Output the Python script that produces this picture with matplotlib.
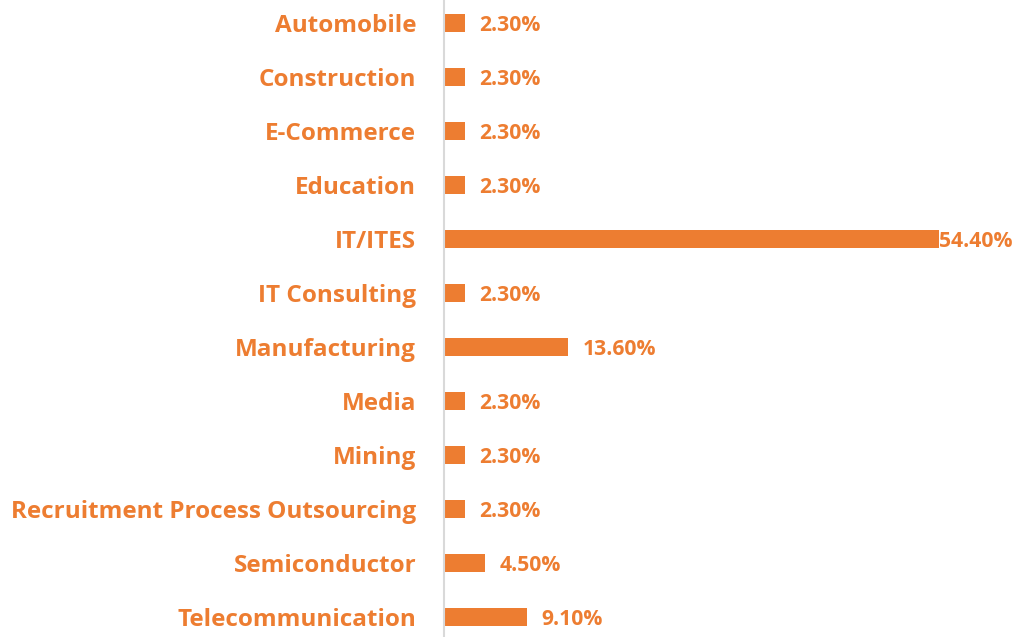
import matplotlib.pyplot as plt

industries = ['Automobile', 'Construction', 'E-Commerce', 'Education', 'IT/ITES',
              'IT Consulting', 'Manufacturing', 'Media', 'Mining',
              'Recruitment Process Outsourcing', 'Semiconductor', 'Telecommunication']
shares = [2.3, 2.3, 2.3, 2.3, 54.4, 2.3, 13.6, 2.3, 2.3, 2.3, 4.5, 9.1]

orange = '#ED7D31'
plt.rcParams['font.family'] = ['Open Sans', 'DejaVu Sans']

fig = plt.figure(figsize=(10.17, 6.37), dpi=100)
ax = fig.add_axes([444 / 1017, 0, (1012 - 444) / 1017, 1])

ypos = list(range(len(industries)))
ax.barh(ypos, shares, height=0.35, color=orange)

ax.set_xlim(0, (1012 - 444) / 9.1)
ax.set_ylim((637 - 23) / 54, -23 / 54)

# value labels; the long bar's label sits right against the bar end
for y, v in zip(ypos, shares):
    pad = 0.05 if v > 50 else 1.6
    ax.text(v + pad, y, '{:.2f}%'.format(v), va='center_baseline', ha='left',
            color=orange, fontsize=15.2, fontweight='bold', clip_on=False)

ax.set_yticks(ypos)
ax.set_yticklabels(industries, color=orange, fontsize=17.5, fontweight='bold')
ax.tick_params(axis='y', length=0, pad=20)
ax.set_xticks([])
for s in ['top', 'right', 'bottom']:
    ax.spines[s].set_visible(False)
ax.spines['left'].set_color('#d9d9d9')
ax.spines['left'].set_linewidth(1.5)

fig.savefig('out.png', dpi=100)
